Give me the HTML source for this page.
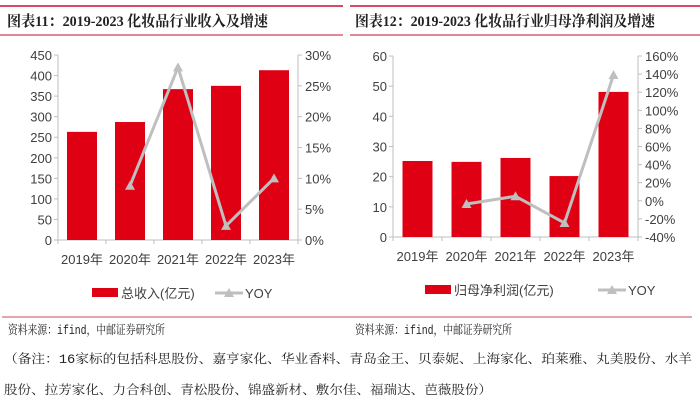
<!DOCTYPE html>
<html><head><meta charset="utf-8"><style>
body{margin:0;width:700px;height:407px;background:#fff;overflow:hidden;font-family:"Liberation Sans","Noto Sans CJK SC",sans-serif}
svg{position:absolute;left:0;top:0}
.t{font-family:"Liberation Serif","Noto Serif CJK SC",serif;font-weight:bold;font-size:15px;fill:#222}
.ax{font-size:13px;fill:#404040}
.n{font-family:"Liberation Mono","Noto Serif CJK SC",monospace;font-size:12.5px;fill:#222}
</style></head><body>
<svg width="700" height="407">
<g>
<line x1="0" y1="6" x2="343" y2="6" stroke="#c8102e" stroke-width="1.5"/>
<line x1="0" y1="35" x2="343" y2="35" stroke="#c8102e" stroke-width="1"/>
<line x1="350" y1="6" x2="700" y2="6" stroke="#c8102e" stroke-width="1.5"/>
<line x1="350" y1="35" x2="700" y2="35" stroke="#c8102e" stroke-width="1"/>
<line x1="2" y1="317" x2="692" y2="317" stroke="#d88a94" stroke-width="1.5"/>
</g>
<text class="t" x="7" y="26" textLength="261" lengthAdjust="spacingAndGlyphs">图表11：2019-2023 化妆品行业收入及增速</text>
<text class="t" x="355" y="26" textLength="300" lengthAdjust="spacingAndGlyphs">图表12：2019-2023 化妆品行业归母净利润及增速</text>
<g id="c1"></g>
<g id="c2"></g>
<text class="n" x="8" y="334" textLength="157" lengthAdjust="spacingAndGlyphs">资料来源：ifind，中邮证券研究所</text>
<text class="n" x="355" y="334" textLength="157" lengthAdjust="spacingAndGlyphs">资料来源：ifind，中邮证券研究所</text>
<text class="n" x="4" y="363" textLength="688" lengthAdjust="spacingAndGlyphs">（备注：16家标的包括科思股份、嘉亨家化、华业香料、青岛金王、贝泰妮、上海家化、珀莱雅、丸美股份、水羊</text>
<text class="n" x="4" y="394" textLength="488" lengthAdjust="spacingAndGlyphs">股份、拉芳家化、力合科创、青松股份、锦盛新材、敷尔佳、福瑞达、芭薇股份）</text>
</svg>
<script>
const categories=["2019年","2020年","2021年","2022年","2023年"];
const revenue=[263,287,367,375,413];
const revenueYoy=[null,8.8,28,2.3,10];
const revTicks=[0,50,100,150,200,250,300,350,400,450];
const revYoyTicks=[0,5,10,15,20,25,30];
const profit=[25.2,24.9,26.2,20.2,48.1];
const profitYoy=[null,-3.5,5,-24.5,139];
const profTicks=[0,10,20,30,40,50,60];
const profYoyTicks=[-40,-20,0,20,40,60,80,100,120,140,160];
const NS="http://www.w3.org/2000/svg";
function mk(p,tag,a,txt){const e=document.createElementNS(NS,tag);for(const k in a)e.setAttribute(k,a[k]);if(txt!=null)e.textContent=txt;p.appendChild(e);return e;}
function draw(g,cfg){
 const {x0,x1,y0,y1,lt,rt,bars,yoy,legend,lx,lg2}=cfg;
 const lmin=lt[0],lmax=lt[lt.length-1],rmin=rt[0],rmax=rt[rt.length-1];
 const yl=v=>y0-(v-lmin)/(lmax-lmin)*(y0-y1);
 const yr=v=>y0-(v-rmin)/(rmax-rmin)*(y0-y1);
 const cw=(x1-x0)/categories.length;
 const ax=mk(g,'g',{});
 mk(ax,'line',{x1:x0,y1:y1,x2:x0,y2:y0,stroke:'#bfbfbf'});
 mk(ax,'line',{x1:x1,y1:y1,x2:x1,y2:y0,stroke:'#bfbfbf'});
 mk(ax,'line',{x1:x0,y1:y0,x2:x1,y2:y0,stroke:'#bfbfbf'});
 lt.forEach(v=>{mk(ax,'line',{x1:x0-4,y1:yl(v),x2:x0,y2:yl(v),stroke:'#bfbfbf'});
  const t=mk(ax,'text',{x:x0-6,y:yl(v)+5,'text-anchor':'end','class':'ax'},v);});
 rt.forEach(v=>{mk(ax,'line',{x1:x1,y1:yr(v),x2:x1+4,y2:yr(v),stroke:'#bfbfbf'});
  const t=mk(ax,'text',{x:x1+7,y:yr(v)+5,'class':'ax'},v+'%');});
 for(let i=0;i<=categories.length;i++)mk(ax,'line',{x1:x0+i*cw,y1:y0,x2:x0+i*cw,y2:y0+4,stroke:'#bfbfbf'});
 categories.forEach((c,i)=>{const t=mk(ax,'text',{x:x0+cw*(i+.5),y:y0+24,'text-anchor':'middle','class':'ax'},c);});
 bars.forEach((v,i)=>{const r=mk(g,'rect',{x:x0+cw*(i+.5)-15,y:yl(v),width:30,height:y0-yl(v),fill:'#e00014'});});
 const pts=[];yoy.forEach((v,i)=>{if(v!=null)pts.push([x0+cw*(i+.5),yr(v)]);});
 const pl=mk(g,'polyline',{points:pts.map(p=>p.join(',')).join(' '),fill:'none',stroke:'#bfbfbf','stroke-width':3});
 pts.forEach(p=>{const m=mk(g,'polygon',{points:`${p[0]},${p[1]-5} ${p[0]-5},${p[1]+4} ${p[0]+5},${p[1]+4}`,fill:'#bfbfbf'});});
 const lg=mk(g,'g',{});
 const ly=y0+53;
 mk(lg,'rect',{x:lx,y:ly-5,width:26,height:9,fill:'#e00014'});
 mk(lg,'text',{x:lx+29,y:ly+5,'class':'ax'},legend);
 const l2=lx+lg2;
 mk(lg,'line',{x1:l2,y1:ly,x2:l2+28,y2:ly,stroke:'#bfbfbf','stroke-width':3});
 mk(lg,'polygon',{points:`${l2+14},${ly-5} ${l2+9},${ly+4} ${l2+19},${ly+4}`,fill:'#bfbfbf'});
 mk(lg,'text',{x:l2+30,y:ly+5,'class':'ax'},'YOY');
}
draw(document.getElementById('c1'),{x0:58,x1:298,y0:240,y1:55,lt:revTicks,rt:revYoyTicks,bars:revenue,yoy:revenueYoy,legend:'总收入(亿元)',lx:92,lg2:123});
draw(document.getElementById('c2'),{x0:393,x1:638,y0:237,y1:56,lt:profTicks,rt:profYoyTicks,bars:profit,yoy:profitYoy,legend:'归母净利润(亿元)',lx:425,lg2:173});
</script>
</body></html>
